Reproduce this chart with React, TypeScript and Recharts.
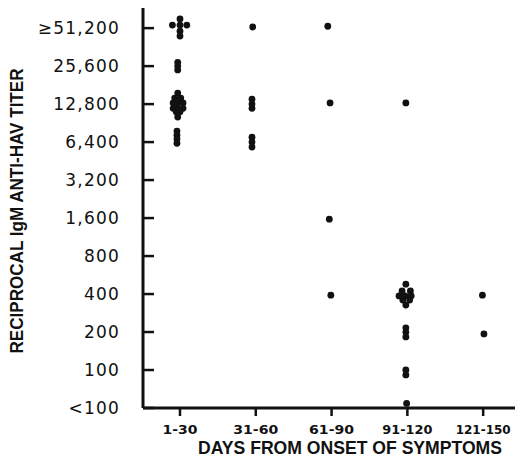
import { ScatterChart, Scatter, XAxis, YAxis } from "recharts";

const DAY_GROUPS = ["1-30", "31-60", "61-90", "91-120", "121-150"];
const TITER_LABELS = ["<100", "100", "200", "400", "800", "1,600", "3,200", "6,400", "12,800", "25,600", "≥51,200"];

// [day group (1 = 1-30 ... 5 = 121-150, with the small spread used to keep dots apart), titer step (0 = <100 ... 10 = ≥51,200)]
const days1to30: [number, number][] = [
  [1.0, 10.24], [0.9, 10.08], [1.0, 10.08], [1.09, 10.08], [1.0, 9.92], [1.0, 9.79],
  [0.97, 9.1], [0.97, 9.0], [0.97, 8.9],
  [0.97, 8.29], [0.93, 8.16], [1.01, 8.16], [0.91, 8.03], [0.97, 8.03], [1.04, 8.03],
  [0.91, 7.89], [0.97, 7.89], [1.04, 7.89], [0.95, 7.8], [1.0, 7.8], [0.97, 7.66],
  [0.96, 7.29], [0.96, 7.18], [0.96, 7.08], [0.96, 6.97],
];
const days31to60: [number, number][] = [
  [1.96, 10.03], [1.95, 8.13], [1.95, 8.0], [1.95, 7.89], [1.95, 7.13], [1.95, 7.0], [1.95, 6.87],
];
const days61to90: [number, number][] = [
  [2.95, 10.05], [2.98, 8.03], [2.97, 4.97], [2.99, 2.97],
];
const days91to120: [number, number][] = [
  [3.98, 8.03],
  [3.98, 3.26], [3.93, 3.08], [4.04, 3.08], [3.89, 2.95], [3.97, 2.95], [4.05, 2.95], [3.94, 2.84], [4.03, 2.84], [3.98, 2.71],
  [3.98, 2.11], [3.98, 2.0], [3.98, 1.87],
  [3.98, 1.0], [3.98, 0.87],
  [3.99, 0.12],
];
const days121to150: [number, number][] = [
  [4.99, 2.97], [5.01, 1.95],
];

const GROUPS = [days1to30, days31to60, days61to90, days91to120, days121to150];

const INK = "#111";
const TICK_FONT = "'DejaVu Sans', Verdana, sans-serif";
const TITLE_FONT = "'Liberation Sans Narrow', 'Arial Narrow', 'Liberation Sans', Arial, sans-serif";

// rough printed width of the wide day labels ("1" is narrow in the original type)
const labelWidth = (s: string) => s.split("").reduce((w, c) => w + (c === "1" ? 5 : 10), 0);

function YTick(props: any) {
  const { x, y, payload } = props;
  return (
    <g>
      <line x1={x} x2={x + 11} y1={y} y2={y} stroke={INK} strokeWidth={2.5} />
      <text x={x - 23} y={y} dy="0.36em" textAnchor="end" fontFamily={TICK_FONT} fontSize={17} letterSpacing={1.2} fill={INK}>
        {TITER_LABELS[payload.value]}
      </text>
    </g>
  );
}

function XTick(props: any) {
  const { x, y, payload } = props;
  const label = DAY_GROUPS[payload.value - 1];
  return (
    <g>
      <line x1={x} x2={x} y1={y} y2={y + 8} stroke={INK} strokeWidth={2.5} />
      <text
        x={x}
        y={y + 26}
        textAnchor="middle"
        fontFamily={TICK_FONT}
        fontWeight="bold"
        fontSize={11.5}
        textLength={labelWidth(label)}
        lengthAdjust="spacingAndGlyphs"
        fill={INK}
      >
        {label}
      </text>
    </g>
  );
}

const dot = (p: any) => <circle cx={p.cx} cy={p.cy} r={3.4} fill={INK} />;

export default function App() {
  return (
    <div style={{ position: "absolute", left: 0, top: 0, width: 523, height: 475, background: "#fff" }}>
      <ScatterChart width={523} height={475} margin={{ top: 8, right: 8, bottom: 0, left: 0 }}>
        <XAxis
          type="number"
          dataKey="x"
          domain={[0.512, 5.42]}
          ticks={[1, 2, 3, 4, 5]}
          height={67}
          axisLine={{ stroke: INK, strokeWidth: 3 }}
          tickLine={false}
          tickSize={0}
          tickMargin={0}
          tick={<XTick />}
          allowDataOverflow
        />
        <YAxis
          type="number"
          dataKey="y"
          domain={[0, 10.53]}
          ticks={[0, 1, 2, 3, 4, 5, 6, 7, 8, 9, 10]}
          width={143}
          axisLine={{ stroke: INK, strokeWidth: 3 }}
          tickLine={false}
          tickSize={0}
          tickMargin={0}
          tick={<YTick />}
          allowDataOverflow
        />
        {GROUPS.map((g, i) => (
          <Scatter
            key={DAY_GROUPS[i]}
            data={g.map(([x, y]) => ({ x, y }))}
            shape={dot}
            isAnimationActive={false}
          />
        ))}
      </ScatterChart>
      <svg width={523} height={475} style={{ position: "absolute", left: 0, top: 0, pointerEvents: "none" }}>
        <text
          transform="translate(23,211) rotate(-90)"
          textAnchor="middle"
          fontFamily={TITLE_FONT}
          fontWeight="bold"
          fontSize={18}
          textLength={285}
          lengthAdjust="spacingAndGlyphs"
          fill={INK}
        >
          RECIPROCAL IgM ANTI-HAV TITER
        </text>
        <text
          x={350}
          y={454}
          textAnchor="middle"
          fontFamily={TITLE_FONT}
          fontWeight="bold"
          fontSize={18}
          textLength={304}
          lengthAdjust="spacingAndGlyphs"
          fill={INK}
        >
          DAYS FROM ONSET OF SYMPTOMS
        </text>
      </svg>
    </div>
  );
}
